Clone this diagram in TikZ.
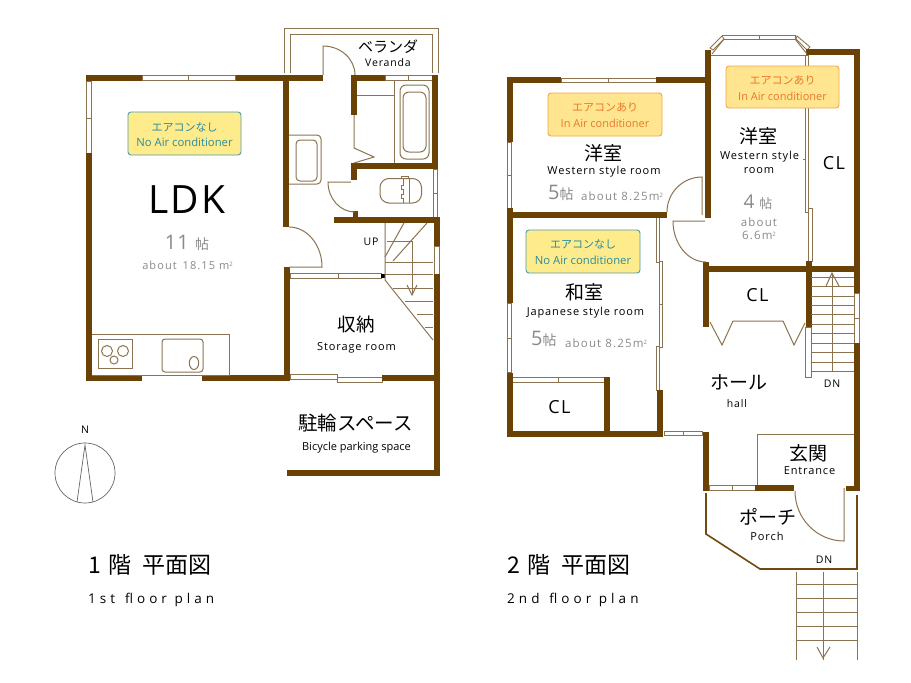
\documentclass[tikz,border=0pt]{standalone}
\usepackage{fontspec}
\setmainfont{Open Sans}
\newfontfamily\jp{Noto Sans CJK JP}[Scale=1]
\newfontfamily\ls{Open Sans}[LetterSpace=8]
\newfontfamily\lgy{Open Sans}[LetterSpace=10]
\newfontfamily\lz{Open Sans}[LetterSpace=30]
\definecolor{wallc}{HTML}{6B4206}
\definecolor{linec}{HTML}{8C7350}
\definecolor{grayt}{HTML}{8A8A8A}
\definecolor{boxf}{HTML}{FDEB8C}
\definecolor{boxo}{HTML}{FFE58F}
\definecolor{teal1}{HTML}{4F9CAB}
\definecolor{teal2}{HTML}{2B8C9C}
\definecolor{orn1}{HTML}{F2A64A}
\definecolor{orn2}{HTML}{E9772B}
\tikzset{
 wall/.style={draw=wallc,line width=6pt,line cap=butt},
 thinl/.style={draw=linec,line width=1pt},
 porchl/.style={draw=wallc!85!linec,line width=1.6pt},
 winb/.style={draw=linec,fill=white,line width=.9pt},
 nac/.style={draw=teal1,fill=boxf,line width=.9pt,rounded corners=3pt},
 iac/.style={draw=orn1,fill=boxo,line width=.9pt,rounded corners=3pt},
 lab/.style={inner sep=0pt,text=black},
 gl/.style={inner sep=0pt,text=grayt},
 nt/.style={inner sep=0pt,text=teal2},
 ot/.style={inner sep=0pt,text=orn2},
}
\newcommand\fs[1]{\fontsize{#1}{#1}\selectfont}
\begin{document}
\begin{tikzpicture}[x=1pt,y=-1pt]
\useasboundingbox (0,0) rectangle (911,683);
\fill[white] (0,0) rectangle (911,683);

% ---------- 1st floor ----------
% veranda
\draw[thinl] (284,73) -- (284,28) -- (438,28) -- (438,73);
\draw[thinl] (290,73) -- (290,34) -- (432,34) -- (432,73);
% windows
\draw[winb] (142,75.5) rectangle (188.5,80.5);
\draw[winb] (188.5,75.5) rectangle (235.5,80.5);
\draw[winb] (86.5,81) rectangle (91.5,118);
\draw[winb] (86.5,118) rectangle (91.5,153);
\draw[winb] (385,75.5) rectangle (408,80);
\draw[winb] (408,75.5) rectangle (432,80);
\draw[winb] (433,169) rectangle (437,193);
\draw[winb] (433,193) rectangle (437,217);
\draw[winb] (434.5,246) rectangle (439.5,274);
\draw[winb] (290,273) rectangle (338,278);
\draw[winb] (338,273) rectangle (381,278);
\draw[winb] (290,374) rectangle (337,379);
\draw[winb] (337,377.5) rectangle (382,382.5);
% outer walls
\draw[wall] (86,78) -- (142,78);
\draw[wall] (235.5,78) -- (323,78);
\draw[wall] (89,75) -- (89,81);
\draw[wall] (89,153) -- (89,381);
\draw[wall] (86,378) -- (142,378);
\draw[wall] (201.5,378) -- (290,378);
\draw[wall] (286,75) -- (286,227);
\draw[wall] (286.5,267) -- (286.5,381);
\draw[wall] (354,75) -- (354,115);
\draw[wall] (351,77.5) -- (385,77.5);
\draw[wall] (435,75) -- (435,169);
\draw[wall] (351,166) -- (438,166);
\draw[wall] (354,163) -- (354,180);
\draw[wall,line width=5pt] (355.5,211) -- (355.5,218);
\draw[wall] (334,220) -- (440,220);
\draw[wall] (437,217) -- (437,246);
\draw[wall] (436.5,274) -- (436.5,476);
\draw[wall] (382,378) -- (436,378);
\draw[wall] (287,473) -- (439.5,473);
\fill[black] (381,273.5) rectangle (385,278);
% doors
\draw[thinl] (323,75) -- (323,46) arc[start angle=270,end angle=360,x radius=32,y radius=29];
\draw[thinl] (289,227) arc[start angle=270,end angle=360,x radius=33,y radius=40] -- (289,267);
\draw[thinl] (351,182) -- (328,182) arc[start angle=180,end angle=90,x radius=27,y radius=30];
% bathroom
\draw[thinl] (354,115) -- (354,148) -- (374,157) -- (354,163);
\draw[thinl] (357,95) -- (394,95);
\draw[thinl] (394,80) -- (394,163);
\draw[thinl,rounded corners=6pt] (400,85) rectangle (429,159);
\draw[thinl,rounded corners=6pt] (403,92) rectangle (426,152);
% washer
\draw[thinl,rounded corners=4pt] (289,135) -- (321,135) -- (321,184) -- (289,184);
\draw[thinl,rounded corners=4pt] (296,140) rectangle (317,181);
% toilet
\draw[thinl,rounded corners=9pt] (380,178.5) -- (421.5,178.5) -- (421.5,203) -- (380,203) -- cycle;
\draw[thinl] (401,178.5) -- (401,176.5) -- (408,176.5) -- (408,178.5);
\draw[thinl] (403,178.5) -- (403,185) -- (401,185) -- (401,189) -- (403,189) -- (403,194) -- (401,194) -- (401,198) -- (403,198) -- (403,203);
\draw[thinl] (409,178.5) -- (409,203);
% stairs
\draw[thinl] (385,223) -- (385,280) -- (433,340);
\draw[thinl] (404,223) -- (385,257);
\draw[thinl] (427,223) -- (393,261);
\draw[thinl] (387,241) -- (412,241);
\draw[thinl] (385,262) -- (433,262);
\draw[thinl] (385,274) -- (433,274);
\draw[thinl] (393,288) -- (433,288);
\draw[thinl] (405,301) -- (433,301);
\draw[thinl] (417,314) -- (433,314);
\draw[thinl] (425,327) -- (433,327);
\draw[thinl] (412,241) -- (412,295);
\draw[thinl] (407,285) -- (412,295) -- (417,285);
% kitchen
\draw[thinl] (92,334) -- (229,334) -- (229,375) -- (92,375);
\draw[thinl] (98,339) rectangle (132,368);
\draw[thinl] (107,351) circle[radius=5.5];
\draw[thinl] (123,351) circle[radius=5.5];
\draw[thinl] (114,360) circle[radius=4];
\draw[thinl,rounded corners=3pt] (162,339) rectangle (203,372);
\draw[thinl] (194,363) ellipse[x radius=4.7,y radius=6.5];
% compass
\draw[draw=black!60,line width=.7pt] (85,473) circle[radius=30];
\draw[draw=black!60,line width=.7pt] (77,502) -- (85,445) -- (93,502);

% ---------- 2nd floor ----------
\draw[winb] (561,78) rectangle (608,82);
\draw[winb] (608,78) rectangle (656,82);
\draw[winb] (507.5,142) rectangle (511.5,175);
\draw[winb] (507.5,175) rectangle (511.5,208);
\draw[winb] (507.5,303) rectangle (511.5,338);
\draw[winb] (507.5,338) rectangle (511.5,372);
\draw[winb] (722,35) rectangle (759,39);
\draw[winb] (759,35) rectangle (795,39);
\draw[winb] (710,48) -- (722,36) -- (724,39) -- (713,50) -- cycle;
\draw[winb] (797,36) -- (810,47) -- (807,50) -- (796,39) -- cycle;
\draw[thinl] (711,55) -- (808,55);
\draw[winb] (805,55) rectangle (808.5,212);
\draw[thinl] (803,159) -- (805,159);
\draw[winb] (808.5,208) rectangle (812,261);
\draw[winb] (656,217) rectangle (659.5,262);
\draw[winb] (659.5,261) rectangle (662.5,304);
\draw[winb] (659.5,304) rectangle (662.5,347);
\draw[winb] (656,346) rectangle (659.5,390);
\draw[winb] (512,377.5) rectangle (558,382);
\draw[winb] (558,377.5) rectangle (604,382);
\draw[winb] (664,431.5) rectangle (683,435);
\draw[winb] (683,431.5) rectangle (702,435);
\draw[winb] (709,485.5) rectangle (732,490);
\draw[winb] (732,485.5) rectangle (755,490);
\draw[winb] (805,327) rectangle (811,377);
\draw[winb] (854.5,293) rectangle (859,318);
\draw[winb] (854.5,318) rectangle (859,343);
% walls
\draw[wall] (507,80) -- (561,80);
\draw[wall] (656,80) -- (708,80);
\draw[wall] (509.5,77) -- (509.5,142);
\draw[wall] (509.5,208) -- (509.5,303);
\draw[wall] (509.5,373) -- (509.5,436);
\draw[wall] (507,214.5) -- (667,214.5);
\draw[wall] (708,50) -- (708,218);
\draw[wall] (706,262) -- (706,327);
\draw[wall] (703,268.5) -- (860,268.5);
\draw[wall] (809,49) -- (809,55);
\draw[wall] (809,52) -- (860,52);
\draw[wall] (857,49) -- (857,293);
\draw[wall] (857,343) -- (857,491);
\draw[wall] (809,261) -- (809,327);
\draw[wall] (607,377) -- (607,433);
\draw[wall] (507,433.5) -- (663,433.5);
\draw[wall] (660,390) -- (660,436);
\draw[wall] (706,432) -- (706,491);
\draw[wall] (755,488) -- (794,488);
\draw[wall,line width=5pt] (846,488.5) -- (857,488.5);
% doors
\draw[thinl] (667,212) arc[start angle=180,end angle=270,radius=35] -- (702,215);
\draw[thinl] (705,221) -- (673,221) arc[start angle=180,end angle=90,x radius=33,y radius=41];
\draw[thinl] (795,491) arc[start angle=180,end angle=90,x radius=49,y radius=50] -- (844,488);
% bay inner
\draw[thinl] (712,54) -- (724,39);
\draw[thinl] (807,54) -- (795,39);
% folding doors
\draw[thinl] (710,322) -- (722,345) -- (733,321) -- (783,321) -- (794,345) -- (805,323);
% stairs
\foreach \y in {277,286,296,305,314,324,333,343,352,362,371}{\draw[thinl] (811,\y) -- (854,\y);}
\draw[thinl] (832,273) -- (832,372);
\draw[thinl] (826,286) -- (832,273) -- (839,286);
% entrance
\draw[thinl] (757.7,485) -- (757.7,434) -- (854,434);
% porch
\draw[porchl] (706,493) -- (706,534) -- (760,569) -- (857,569) -- (857,495);
\foreach \x in {796,823,857}{\draw[thinl] (\x,572) -- (\x,660);}
\foreach \y in {584,598,612,626,640}{\draw[thinl] (796,\y) -- (857,\y);}
\draw[thinl] (817,647) -- (823,658) -- (830,647);

% ---------- boxes ----------
\draw[nac] (128,112) rectangle (241,155);
\node[nt] (a1) at (184.5,127) {\fs{11}\jp エアコンなし};
\node[nt] (a2) at (184.5,142.5) {\fs{11.3}No Air conditioner};
\draw[iac] (548,93) rectangle (662,136);
\node[ot] (b1) at (605,107) {\fs{11}\jp エアコンあり};
\node[ot] (b2) at (605,123.5) {\fs{11}In Air conditioner};
\draw[iac] (726,66) rectangle (839,108);
\node[ot] (c1) at (782.5,80) {\fs{11}\jp エアコンあり};
\node[ot] (c2) at (782.5,96.5) {\fs{11}In Air conditioner};
\draw[nac] (526,230) rectangle (640,273);
\node[nt] (d1) at (583,244) {\fs{11}\jp エアコンなし};
\node[nt] (d2) at (583,260.5) {\fs{11.3}No Air conditioner};

% ---------- labels 1F ----------
\node[lab] (ldk) at (187,200) {\fs{39}\addfontfeature{LetterSpace=6}LDK};
\node[gl] (ldka) at (187,243) {\fs{20}\addfontfeature{LetterSpace=5}11 {\jp\fs{14}帖}};
\node[gl] (ldkb) at (187.5,265) {\fs{11}\lgy about\, 18.15 m{\fs{6}\raisebox{3pt}{2}}};
\node[lab] (ver1) at (388,47) {\fs{15}\jp ベランダ};
\node[lab] (ver2) at (388,63) {\fs{10.5}\ls Veranda};
\node[lab] (up) at (371,242) {\fs{10.5}\ls UP};
\node[lab] (st1) at (356,324) {\fs{18.5}\jp 収納};
\node[lab] (st2) at (356.5,348) {\fs{11}\ls Storage room};
\node[lab] (bk1) at (355.5,423) {\fs{19.5}\jp 駐輪スペース};
\node[lab] (bk2) at (356.5,448) {\fs{11}Bicycle parking space};
\node[lab] (n) at (85,430) {\fs{10.5}N};
\node[lab,anchor=west] (t1) at (88,565) {\fs{23}\jp 1\hspace{8pt}階\hspace{11pt}平面図};
\node[lab,anchor=west] (t1e) at (88,600) {\fs{13.5}\lz 1st\, floor plan};

% ---------- labels 2F ----------
\node[lab] (w1a) at (603,153) {\fs{19}\jp 洋室};
\node[lab] (w1b) at (604,172) {\fs{11}\ls Western style room};
\node[gl,anchor=west] (w1c) at (548,193) {\fs{20}5{\jp\fs{14}帖}};
\node[gl,anchor=west] (w1d) at (581,196) {\fs{11.5}\lgy about 8.25m{\fs{6}\raisebox{3pt}{2}}};
\node[lab] (w2a) at (758,136) {\fs{19}\jp 洋室};
\node[lab] (w2b) at (759.5,157) {\fs{11}\ls Western style};
\node[lab] (w2c) at (759,171) {\fs{11}\ls room};
\node[gl] (w2d) at (758,202) {\fs{19}4 {\jp\fs{13}帖}};
\node[gl] (w2e) at (759,222) {\fs{11.5}\lgy about};
\node[gl] (w2f) at (759,235) {\fs{11.5}\lgy 6.6m{\fs{6}\raisebox{3pt}{2}}};
\node[lab] (cl1) at (834,163) {\fs{18}\ls CL};
\node[lab] (j1) at (584.5,292) {\fs{19}\jp 和室};
\node[lab] (j2) at (585.5,313) {\fs{11}\ls Japanese style room};
\node[gl,anchor=west] (j3) at (531,339) {\fs{20}5{\jp\fs{14}帖}};
\node[gl,anchor=west] (j4) at (565,343) {\fs{11.5}\lgy about 8.25m{\fs{6}\raisebox{3pt}{2}}};
\node[lab] (cl2) at (757.5,295) {\fs{18}\ls CL};
\node[lab] (cl3) at (559.5,407) {\fs{18}\ls CL};
\node[lab] (h1) at (738.5,382) {\fs{19}\jp ホール};
\node[lab] (h2) at (737,404) {\fs{10.5}\ls hall};
\node[lab] (dn1) at (832,384) {\fs{10.5}\ls DN};
\node[lab] (e1) at (808,453) {\fs{19}\jp 玄関};
\node[lab] (e2) at (809.5,471) {\fs{11}\ls Entrance};
\node[lab] (p1) at (768,517) {\fs{19}\jp ポーチ};
\node[lab] (p2) at (767,536) {\fs{11}\ls Porch};
\node[lab] (dn2) at (824,560) {\fs{10.5}\ls DN};
\node[lab,anchor=west] (t2) at (507,565) {\fs{23}\jp 2\hspace{8pt}階\hspace{11pt}平面図};
\node[lab,anchor=west] (t2e) at (507,600) {\fs{13.5}\lz 2nd\, floor plan};
\end{tikzpicture}
\end{document}
